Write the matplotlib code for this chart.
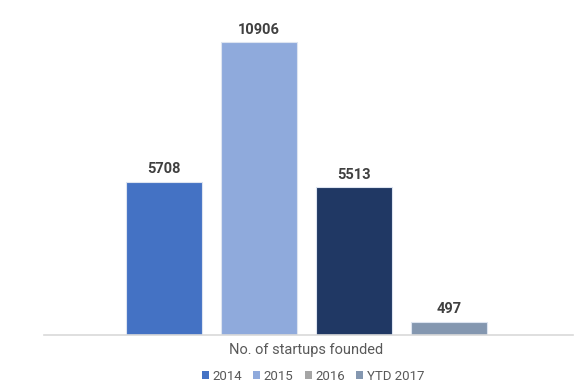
import matplotlib.pyplot as plt
from matplotlib.patches import Patch

plt.rcParams['font.family'] = ['Roboto', 'DejaVu Sans']

series = ["2014", "2015", "2016", "YTD 2017"]
values = [5708, 10906, 5513, 497]
bar_colors = ["#4472c4", "#8faadc", "#203864", "#8497b0"]
legend_colors = ["#4472c4", "#8faadc", "#a5a5a5", "#8497b0"]
category = "No. of startups founded"

fig = plt.figure(figsize=(5.8, 3.86), dpi=100)
ax = fig.add_axes([44 / 580, 51 / 386, 529 / 580, 322 / 386])

pos = list(range(len(values)))
ax.bar(pos, values, width=0.79, color=bar_colors, edgecolor="#dde4f0",
       linewidth=0.8, zorder=2)
for x, v in zip(pos, values):
    ax.text(x, v + 200, str(v), ha="center", va="bottom", fontsize=10.5,
            fontweight="bold", color="#404040")

ax.set_xlim(-1.263, 4.305)
ax.set_ylim(0, 11985)
for s in ["top", "right", "left"]:
    ax.spines[s].set_visible(False)
ax.spines["bottom"].set_color("#d9d9d9")
ax.spines["bottom"].set_linewidth(1.2)
ax.set_yticks([])
ax.set_xticks([1.5])
ax.set_xticklabels([category], fontsize=10.5, color="#595959")
ax.tick_params(axis="x", length=0, pad=6)

handles = [Patch(facecolor=c, label=l) for c, l in zip(legend_colors, series)]
fig.legend(handles=handles, loc="center", bbox_to_anchor=(313 / 580, 1 - 376 / 386),
           ncol=4, frameon=False, fontsize=9.5, handlelength=0.55, handleheight=0.6,
           handletextpad=0.25, columnspacing=0.85, labelcolor="#595959",
           borderpad=0, borderaxespad=0)

fig.savefig("out.png", dpi=100)
